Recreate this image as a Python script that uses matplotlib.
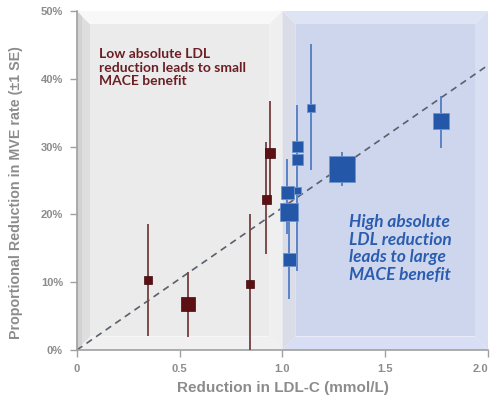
import matplotlib.pyplot as plt
from matplotlib.patches import Polygon

# trial data: LDL reduction (mmol/L), proportional MVE reduction (%), SE bounds, marker size (px)
low_x = [0.345, 0.54, 0.84, 0.92, 0.94]
low_y = [10.3, 6.8, 9.7, 22.3, 29.0]
low_lo = [2.2, 2.0, 0.0, 14.3, 22.5]
low_hi = [18.4, 11.3, 19.9, 30.5, 36.6]
low_size = [8, 14, 8, 9, 10]

high_x = [1.14, 1.07, 1.07, 1.29, 1.77, 1.02, 1.07, 1.03, 1.03]
high_y = [35.7, 30.1, 28.1, 26.7, 33.8, 23.3, 23.6, 20.4, 13.4]
high_lo = [26.7, 30.1, 28.1, 24.3, 30.0, 17.3, 11.8, 19.0, 7.7]
high_hi = [45.0, 30.1, 28.1, 29.0, 37.3, 28.0, 36.0, 21.0, 19.1]
high_size = [8, 11, 11, 26, 16, 13, 7, 18, 13]

trend_x = [0.0, 2.0]
trend_y = [0.0, 42.0]

x_ticks = [0, 0.5, 1.0, 1.5, 2.0]
x_labels = ["0", "0.5", "1.0", "1.5", "2.0"]
y_ticks = [0, 10, 20, 30, 40, 50]
y_labels = ["0%", "10%", "20%", "30%", "40%", "50%"]

MAROON = "#5c1014"
MAROON_LINE = "#7d4a4a"
BLUE = "#2457a8"
BLUE_LINE = "#5a82c6"
GREY_TXT = "#8c8c8c"
AXIS_FONT = "Liberation Sans"


def draw_bevel_panel(ax, x0, x1, y0, y1, inner, left, top, right, bottom, bx=0.07, by=2.1):
    """Draws a beveled rectangle panel in data coordinates."""
    ax.add_patch(Polygon([(x0, y0), (x0 + bx, y0 + by), (x0 + bx, y1 - by), (x0, y1)],
                         closed=True, facecolor=left, edgecolor="none", zorder=0))
    ax.add_patch(Polygon([(x0, y1), (x0 + bx, y1 - by), (x1 - bx, y1 - by), (x1, y1)],
                         closed=True, facecolor=top, edgecolor="none", zorder=0))
    ax.add_patch(Polygon([(x1, y1), (x1 - bx, y1 - by), (x1 - bx, y0 + by), (x1, y0)],
                         closed=True, facecolor=right, edgecolor="none", zorder=0))
    ax.add_patch(Polygon([(x1, y0), (x1 - bx, y0 + by), (x0 + bx, y0 + by), (x0, y0)],
                         closed=True, facecolor=bottom, edgecolor="none", zorder=0))
    ax.add_patch(Polygon([(x0 + bx, y0 + by), (x1 - bx, y0 + by), (x1 - bx, y1 - by), (x0 + bx, y1 - by)],
                         closed=True, facecolor=inner, edgecolor="none", zorder=0))


fig = plt.figure(figsize=(4.96, 4.03), dpi=100)
fig.patch.set_facecolor("white")
ax = fig.add_axes([0.155, 0.1315, 0.829, 0.8415])
ax.set_facecolor("white")

# shaded regions
draw_bevel_panel(ax, 0.0, 1.0, 0, 50,
                 inner="#ebebeb", left="#dedede", top="#f8f8f8", right="#efefef", bottom="#f0f0f0",
                 bx=0.065, by=2.0)
# darker strip along the y axis (shadow)
ax.add_patch(Polygon([(0, 0), (0.025, 0.8), (0.025, 49.2), (0, 50)], closed=True,
                     facecolor="#d2d2d2", edgecolor="none", zorder=0))
draw_bevel_panel(ax, 1.0, 2.0, 0, 50,
                 inner="#ced6ee", left="#dadde8", top="#dfe4f5", right="#d9dff3", bottom="#d8def3",
                 bx=0.065, by=2.0)

# trend line
ax.plot(trend_x, trend_y, color="#5a606b", linewidth=1.2, linestyle=(0, (4, 3)), zorder=2)

# error bars + markers
for x, y, lo, hi, s in zip(low_x, low_y, low_lo, low_hi, low_size):
    ax.plot([x, x], [lo, hi], color=MAROON_LINE, linewidth=1.4, zorder=3)
    ax.plot(x, y, marker="s", markersize=s * 0.72, color=MAROON,
            markeredgecolor="#3e0a0c", markeredgewidth=0.5, zorder=4)

for x, y, lo, hi, s in zip(high_x, high_y, high_lo, high_hi, high_size):
    ax.plot([x, x], [lo, hi], color=BLUE_LINE, linewidth=1.4, zorder=3)
    ax.plot(x, y, marker="s", markersize=s * 0.72, color=BLUE,
            markeredgecolor="#6f93cf", markeredgewidth=0.6, zorder=4)

# annotations
ax.text(0.11, 44.5, "Low absolute LDL\nreduction leads to small\nMACE benefit",
        color="#6b1f24", fontsize=10, fontweight="bold", family="Lato",
        ha="left", va="top", linespacing=1.15, zorder=5)
ax.text(1.325, 20.0, "High absolute\nLDL reduction\nleads to large\nMACE benefit",
        color="#2a5cb0", fontsize=12.4, fontweight="bold", style="italic", family="Lato",
        ha="left", va="top", linespacing=1.12, zorder=5)

ax.set_xlim(0, 2.0)
ax.set_ylim(0, 50)
ax.set_xticks(x_ticks)
ax.set_xticklabels(x_labels)
ax.set_yticks(y_ticks)
ax.set_yticklabels(y_labels)

for side in ["top", "right"]:
    ax.spines[side].set_visible(False)
for side in ["left", "bottom"]:
    ax.spines[side].set_color("#a0a0a0")
    ax.spines[side].set_linewidth(1.2)

ax.tick_params(direction="out", length=5, width=1, color="#a0a0a0",
               labelcolor=GREY_TXT, labelsize=8, pad=5)
for lbl in ax.get_xticklabels() + ax.get_yticklabels():
    lbl.set_fontweight("bold")
    lbl.set_family(AXIS_FONT)
# keep the last x tick label inside the canvas
ax.get_xticklabels()[-1].set_horizontalalignment("right")
ax.get_xticklabels()[-1].set_x(2.015)

ax.set_xlabel("Reduction in LDL-C (mmol/L)", color=GREY_TXT, fontsize=11,
              fontweight="bold", family=AXIS_FONT, labelpad=5)
ax.set_ylabel("Proportional Reduction in MVE rate (\u00b11 SE)", color=GREY_TXT,
              fontsize=10.3, fontweight="bold", family=AXIS_FONT)
ax.yaxis.set_label_coords(-0.13, 0.465)

plt.savefig("out.png", dpi=100)
plt.close()
